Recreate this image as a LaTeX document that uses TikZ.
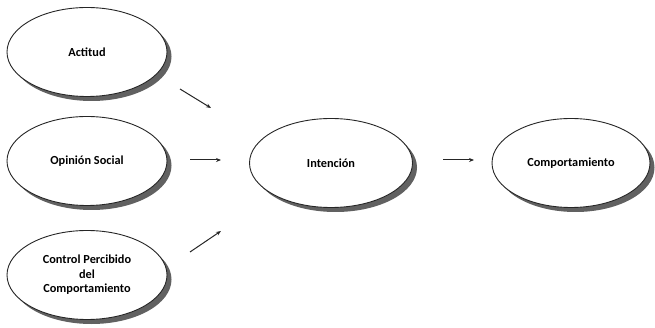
\documentclass[tikz,border=0pt]{standalone}
\usepackage{fontspec}
\setmainfont{Carlito}
\usetikzlibrary{arrows.meta,shapes.geometric,shadows}
\begin{document}
\begin{tikzpicture}[x=1pt,y=-1pt,
  oval/.style={ellipse,draw=black!85,line width=0.9pt,fill=white,
    minimum width=#1,minimum height=89pt,inner sep=0pt,align=center,
    font=\fontsize{12.3}{14.5}\selectfont\bfseries,
    drop shadow={shadow xshift=4.5pt,shadow yshift=-4.5pt,fill=black!62,opacity=1}},
  oval/.default=160pt,
  conn/.style={draw=black!85,line width=1pt,-{Stealth[length=5pt,width=4pt]}}]
\useasboundingbox (0,0) rectangle (655,328);
\node[oval] (act) at (87,52) {Actitud};
\node[oval] (op) at (87,161) {Opinión Social};
\node[oval] (ctrl) at (87,275) {Control Percibido\\del\\Comportamiento};
\node[oval=163pt] (int) at (331,163) {Intención};
\node[oval=158pt] (comp) at (571,163) {Comportamiento};
\coordinate (a1) at (180,89);  \coordinate (a2) at (211,108);
\coordinate (b1) at (190,160); \coordinate (b2) at (221,160);
\coordinate (c1) at (190,252); \coordinate (c2) at (221,231);
\coordinate (d1) at (443,160); \coordinate (d2) at (474,160);
\draw[conn] (a1) -- (a2);
\draw[conn] (b1) -- (b2);
\draw[conn] (c1) -- (c2);
\draw[conn] (d1) -- (d2);
\end{tikzpicture}
\end{document}
